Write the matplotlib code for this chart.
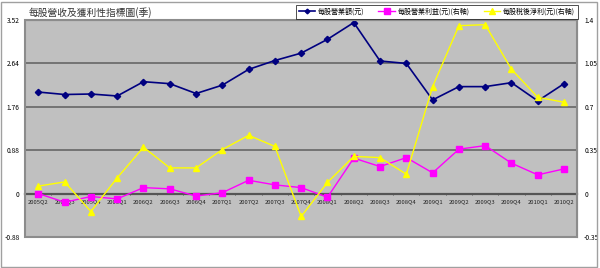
import matplotlib
matplotlib.use('Agg')
import matplotlib.pyplot as plt
from matplotlib.patches import Rectangle

plt.rcParams['font.family'] = ['Noto Sans CJK TC', 'DejaVu Sans']

# quarters
quarters = ['2005Q2', '2005Q3', '2005Q4',
            '2006Q1', '2006Q2', '2006Q3', '2006Q4',
            '2007Q1', '2007Q2', '2007Q3', '2007Q4',
            '2008Q1', '2008Q2', '2008Q3', '2008Q4',
            '2009Q1', '2009Q2', '2009Q3', '2009Q4',
            '2010Q1', '2010Q2']

# left axis
revenue_ps = [2.06, 2.01, 2.02, 1.98, 2.27, 2.23, 2.03,
              2.20, 2.52, 2.70, 2.85, 3.13, 3.47, 2.69,
              2.64, 1.90, 2.17, 2.17, 2.25, 1.88, 2.23]
# right axis
op_income_ps = [0.0, -0.07, -0.024, -0.043, 0.048, 0.038, -0.02,
                0.007, 0.107, 0.07, 0.048, -0.03, 0.286, 0.218,
                0.29, 0.167, 0.358, 0.387, 0.245, 0.151, 0.199]
net_income_ps = [0.06, 0.094, -0.145, 0.127, 0.374, 0.207, 0.207,
                 0.355, 0.47, 0.38, -0.185, 0.09, 0.30, 0.29,
                 0.156, 0.863, 1.355, 1.363, 1.003, 0.777, 0.737]

left_ticks = [-0.88, 0, 0.88, 1.76, 2.64, 3.52]
left_labels = ['-0.88', '0', '0.88', '1.76', '2.64', '3.52']
right_ticks = [-0.35, 0, 0.35, 0.7, 1.05, 1.4]
right_labels = ['-0.35', '0', '0.35', '0.7', '1.05', '1.4']

fig = plt.figure(figsize=(6, 2.68), dpi=100)
fig.patches.append(Rectangle((0.002, 0.004), 0.993, 0.99, transform=fig.transFigure,
                             fill=False, edgecolor='#A0A0A0', lw=1))

ax = fig.add_axes([0.042, 0.116, 0.920, 0.809])
ax.set_facecolor('#C0C0C0')
x = list(range(len(quarters)))

ax.set_xlim(-0.5, len(quarters) - 0.5)
ax.set_ylim(-0.88, 3.52)
for y in [0.88, 1.76, 2.64]:
    ax.axhline(y, color='#6E6E6E', lw=1.3, zorder=1)

ax.spines['bottom'].set_position(('data', 0))
ax.spines['bottom'].set_color('#555555')
ax.spines['bottom'].set_linewidth(1.6)
for s in ['top', 'left', 'right']:
    ax.spines[s].set_color('#909090')
ax.spines['left'].set_visible(False)

ax.set_xticks(x)
ax.set_xticklabels(quarters, fontsize=4.2, color='#222222')
ax.tick_params(axis='x', length=0, pad=4)
ax.set_xticks([i + 0.5 for i in x[:-1]], minor=True)
ax.tick_params(axis='x', which='minor', length=2, direction='inout', color='#444444')

ax.set_yticks(left_ticks)
ax.set_yticklabels(left_labels, fontsize=4.8)
ax.tick_params(axis='y', length=0, pad=4)

ax.plot(x, revenue_ps, color='#000080', lw=1.2, marker='D', markersize=3.2,
        label='每股營業額(元)', zorder=3)

ax2 = ax.twinx()
ax2.set_ylim(-0.35, 1.4)
ax2.set_yticks(right_ticks)
ax2.set_yticklabels(right_labels, fontsize=4.8)
ax2.tick_params(axis='y', length=0, pad=5)
for s in ax2.spines.values():
    s.set_visible(False)
ax2.plot(x, op_income_ps, color='#FF00FF', lw=1, marker='s', markersize=5,
         label='每股營業利益(元)(右軸)', zorder=3)
ax2.plot(x, net_income_ps, color='#FFFF00', lw=1, marker='^', markersize=5,
         label='每股稅後淨利(元)(右軸)', zorder=3)

# plot frame
ax.add_patch(Rectangle((0, 0), 1, 1, transform=ax.transAxes, fill=False,
                       edgecolor='#8C8C8C', lw=1.5, zorder=5, clip_on=False))

fig.text(0.047, 0.952, '每股營收及獲利性指標圖(季)', fontsize=7, va='center', ha='left',
         color='#333333')

h1, l1 = ax.get_legend_handles_labels()
h2, l2 = ax2.get_legend_handles_labels()
leg = fig.legend(h1 + h2, l1 + l2, ncol=3, loc='upper right',
                 bbox_to_anchor=(578 / 600, 1 - 5 / 268),
                 fontsize=5.0, frameon=True, fancybox=False, edgecolor='black',
                 handlelength=2.4, handletextpad=0.4, columnspacing=2.0,
                 borderpad=0.4, borderaxespad=0, markerscale=0.75)
leg.get_frame().set_linewidth(0.6)

fig.savefig('out.png', dpi=100)
